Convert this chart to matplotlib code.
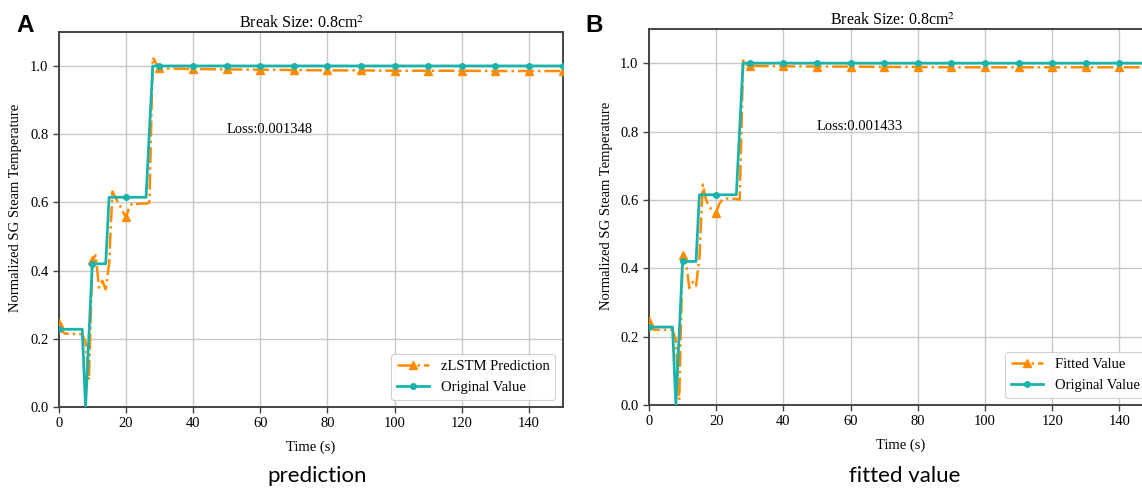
import matplotlib.pyplot as plt

# Serie temporal (s): muestreo de 1 s hasta 30 s, luego cada 10 s (tramo estable)
tiempo = list(range(0, 31)) + [40, 50, 60, 70, 80, 90, 100, 110, 120, 130, 140, 150]

# Valor original normalizado (comun a ambos paneles)
valor_original = [
    0.228, 0.228, 0.228, 0.228, 0.228, 0.228, 0.228, 0.228, 0.0, 0.21,
    0.42, 0.42, 0.42, 0.42, 0.42, 0.615, 0.615, 0.615, 0.615, 0.615,
    0.615, 0.615, 0.615, 0.615, 0.615, 0.615, 0.615, 0.81, 1.0, 1.0,
    1.0,
    1.0, 1.0, 1.0, 1.0, 1.0, 1.0, 1.0, 1.0, 1.0, 1.0, 1.0, 1.0,
]

# Prediccion zLSTM (panel A)
prediccion = [
    0.245, 0.222, 0.215, 0.215, 0.215, 0.214, 0.214, 0.213, 0.19, 0.08,
    0.43, 0.445, 0.35, 0.37, 0.345, 0.42, 0.632, 0.612, 0.595, 0.575,
    0.556, 0.585, 0.598, 0.595, 0.596, 0.597, 0.596, 0.6, 1.025, 1.008,
    0.993,
    0.991, 0.99, 0.989, 0.988, 0.987, 0.987, 0.986, 0.986, 0.986, 0.985, 0.985, 0.985,
]

# Valor ajustado (panel B)
ajustado = [
    0.245, 0.222, 0.22, 0.22, 0.22, 0.22, 0.22, 0.22, 0.19, 0.015,
    0.44, 0.42, 0.342, 0.36, 0.348, 0.43, 0.645, 0.6, 0.578, 0.57,
    0.563, 0.59, 0.602, 0.604, 0.604, 0.603, 0.603, 0.6, 1.008, 0.995,
    0.992,
    0.991, 0.99, 0.99, 0.989, 0.989, 0.988, 0.988, 0.988, 0.988, 0.988, 0.988, 0.988,
]

titulo = "Break Size: 0.8cm$^2$"
loss_a = "Loss:0.001348"
loss_b = "Loss:0.001433"

NARANJA = "#ff8c00"
TURQUESA = "#1ab3ac"
SERIF = ["Liberation Serif", "DejaVu Serif"]

plt.rcParams["font.family"] = SERIF
plt.rcParams["mathtext.fontset"] = "stix"

# marcadores cada 10 s
marcas = [i for i, t in enumerate(tiempo) if t % 10 == 0]


def dibujar_panel(ax, serie, etiqueta, texto_loss):
    ax.plot(tiempo, serie, color=NARANJA, lw=1.8, ls="-.", marker="^", ms=6,
            markevery=marcas, label=etiqueta, zorder=3)
    ax.plot(tiempo, valor_original, color=TURQUESA, lw=2.0, marker="o", ms=4,
            markevery=marcas, label="Original Value", zorder=4)
    ax.set_xlim(0, 150)
    ax.set_ylim(0, 1.1)
    ax.set_xticks(range(0, 150, 20))
    ax.set_yticks([0.0, 0.2, 0.4, 0.6, 0.8, 1.0])
    ax.grid(True, color="#c8c8c8", lw=1.0)
    ax.set_axisbelow(True)
    for s in ax.spines.values():
        s.set_color("#444444")
        s.set_linewidth(1.4)
    ax.tick_params(labelsize=10.5, color="#444444", length=4, width=1.0)
    ax.set_xlabel("Time (s)", fontsize=10.5, labelpad=7)
    ax.set_ylabel("Normalized SG Steam Temperature", fontsize=10.5)
    ax.yaxis.set_label_coords(-0.072, 0.53)
    ax.set_title(titulo, fontsize=11.5, x=0.483, pad=3)
    ax.text(50, 0.815, texto_loss, fontsize=10.5, ha="left", va="center")
    leg = ax.legend(loc="lower right", fontsize=10.5, framealpha=0.9,
                    edgecolor="#cccccc", handlelength=2.2)
    leg.get_frame().set_linewidth(0.8)


fig = plt.figure(figsize=(11.42, 4.93), dpi=100)
ax_a = fig.add_axes([0.0514, 0.1744, 0.4413, 0.761])
ax_b = fig.add_axes([0.5683, 0.1785, 0.4413, 0.7627])

dibujar_panel(ax_a, prediccion, "zLSTM Prediction", loss_a)
dibujar_panel(ax_b, ajustado, "Fitted Value", loss_b)

fig.text(0.014, 0.935, "A", fontsize=17.5, fontweight="bold",
         family=["Liberation Sans", "DejaVu Sans"], ha="left", va="baseline")
fig.text(0.513, 0.935, "B", fontsize=17.5, fontweight="bold",
         family=["Liberation Sans", "DejaVu Sans"], ha="left", va="baseline")

fig.text(0.278, 0.023, "prediction", fontsize=16,
         family=["Lato", "DejaVu Sans"], ha="center", va="baseline")
fig.text(0.792, 0.023, "fitted value", fontsize=16,
         family=["Lato", "DejaVu Sans"], ha="center", va="baseline")

fig.savefig("out.png", dpi=100)
